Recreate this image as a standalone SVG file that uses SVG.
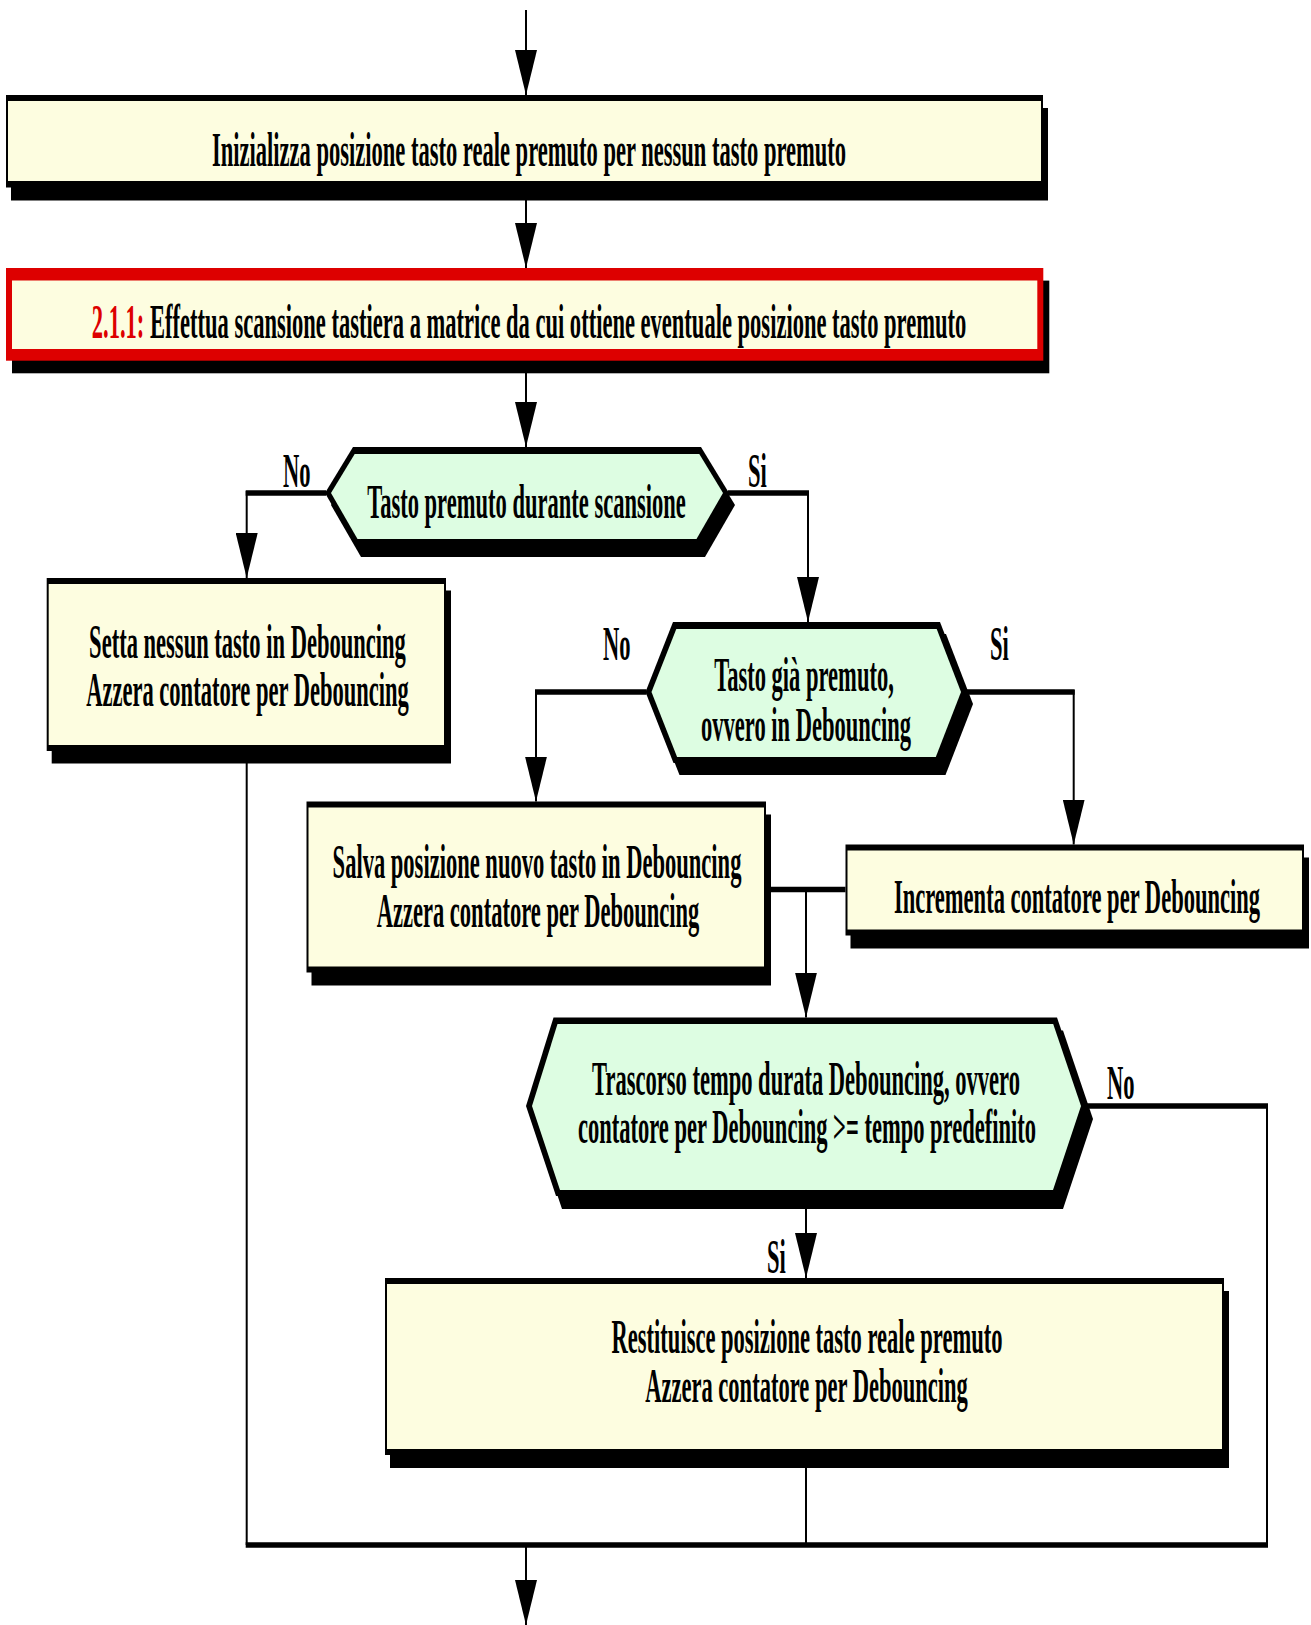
<svg xmlns="http://www.w3.org/2000/svg" width="1311" height="1625" viewBox="0 0 1311 1625">
<defs>
<style>
.t{font-family:"Liberation Serif","Times New Roman",serif;font-weight:bold;font-size:49px;fill:#000}
.m{text-anchor:middle}
.sh{fill:#000}
.bd{fill:#000}
.bx{fill:#fdfde0}
.hx{fill:#ddfde2}
.v{stroke:#000;stroke-width:2;fill:none}
.h{stroke:#000;stroke-width:5.5;fill:none}
.red{fill:#dd0000}
</style>
<marker id="ah" markerUnits="userSpaceOnUse" viewBox="0 0 45 22" markerWidth="45" markerHeight="22" refX="45" refY="11" orient="auto">
<path d="M0,0 L45,11 L0,22 z" fill="#000"/>
</marker>
</defs>
<rect width="1311" height="1625" fill="#fff"/>

<g id="connectors">
<line class="v" x1="526" y1="10" x2="526" y2="95" marker-end="url(#ah)"/>
<line class="v" x1="526" y1="200" x2="526" y2="268" marker-end="url(#ah)"/>
<line class="v" x1="526" y1="373" x2="526" y2="447" marker-end="url(#ah)"/>
<line class="h" x1="326" y1="493" x2="245.7" y2="493"/>
<line class="v" x1="246.7" y1="491" x2="246.7" y2="578" marker-end="url(#ah)"/>
<line class="h" x1="728" y1="493" x2="809" y2="493"/>
<line class="v" x1="808" y1="491" x2="808" y2="622" marker-end="url(#ah)"/>
<line class="h" x1="646.5" y1="692" x2="535" y2="692"/>
<line class="v" x1="536" y1="690" x2="536" y2="801.5" marker-end="url(#ah)"/>
<line class="h" x1="966" y1="692" x2="1074.7" y2="692"/>
<line class="v" x1="1073.7" y1="690" x2="1073.7" y2="844.5" marker-end="url(#ah)"/>
<line class="h" x1="766" y1="889.5" x2="845.5" y2="889.5"/>
<line class="v" x1="806" y1="889.5" x2="806" y2="1017.5" marker-end="url(#ah)"/>
<line class="h" x1="1086" y1="1106" x2="1268" y2="1106"/>
<line class="v" x1="1267" y1="1104" x2="1267" y2="1545"/>
<line class="v" x1="806" y1="1209" x2="806" y2="1278" marker-end="url(#ah)"/>
<line class="v" x1="246.7" y1="751" x2="246.7" y2="1545"/>
<line class="v" x1="806" y1="1455" x2="806" y2="1545"/>
<line class="h" x1="245.7" y1="1545" x2="1268" y2="1545"/>
<line class="v" x1="526" y1="1545" x2="526" y2="1625" marker-end="url(#ah)"/>
<text class="t" transform="translate(283 487) scale(0.46 1)">No</text>
<text class="t" transform="translate(748 487) scale(0.46 1)">Si</text>
<text class="t" transform="translate(603 660) scale(0.46 1)">No</text>
<text class="t" transform="translate(990 660) scale(0.46 1)">Si</text>
<text class="t" transform="translate(1107 1099) scale(0.46 1)">No</text>
<text class="t" transform="translate(767 1273) scale(0.46 1)">Si</text>
</g>

<g id="n1">
<rect class="sh" x="11" y="108" width="1037" height="92.5"/>
<rect class="bd" x="6" y="95" width="1037" height="92.5"/>
<rect class="bx" x="8" y="101" width="1033" height="80"/>
<text class="t m" transform="translate(529 166) scale(0.46 1)">Inizializza posizione tasto reale premuto per nessun tasto premuto</text>
</g>

<g id="n2">
<rect class="sh" x="12" y="280.6" width="1037.3" height="92.7"/>
<rect class="red" x="6" y="268" width="1037.3" height="92.7"/>
<rect class="bx" x="12" y="280.5" width="1025.3" height="68.5"/>
<text class="t m" transform="translate(529 338) scale(0.46 1)"><tspan fill="#dd0000">2.1.1:</tspan> Effettua scansione tastiera a matrice da cui ottiene eventuale posizione tasto premuto</text>
</g>

<g id="d1">
<polygon class="sh" points="359,459 707,459 735,505 705,557 361,557 331,505"/>
<polygon class="bd" points="353,447 701,447 729,493 699,545 355,545 325,493"/>
<polygon class="hx" points="354.7,454 699.3,454 723,493 696.5,539 357.5,539 331,493"/>
<text class="t m" transform="translate(526.5 518) scale(0.46 1)">Tasto premuto durante scansione</text>
</g>

<g id="n3">
<rect class="sh" x="51.7" y="590.5" width="399.3" height="173"/>
<rect class="bd" x="46.7" y="578" width="399.3" height="173"/>
<rect class="bx" x="48.7" y="584" width="395.3" height="161"/>
<text class="t m" transform="translate(247.5 658) scale(0.46 1)"><tspan x="0" y="0">Setta nessun tasto in Debouncing</tspan><tspan x="0" y="48">Azzera contatore per Debouncing</tspan></text>
</g>

<g id="d2">
<polygon class="sh" points="679,634 946,634 973,704 945.5,775 679.5,775 651.5,704"/>
<polygon class="bd" points="673,622 940,622 967,692 939.5,763 673.5,763 645.5,692"/>
<polygon class="hx" points="676.3,629 936.7,629 961,692 935.8,757 677.1,757 651.5,692"/>
<text class="t m" transform="translate(804 691) scale(0.46 1)"><tspan x="0" y="0">Tasto già premuto,</tspan><tspan x="4.35" y="50">ovvero in Debouncing</tspan></text>
</g>

<g id="n4">
<rect class="sh" x="311.5" y="814.5" width="459.5" height="171"/>
<rect class="bd" x="306.5" y="801.5" width="459.5" height="171"/>
<rect class="bx" x="308.5" y="807.5" width="455.5" height="159"/>
<text class="t m" transform="translate(537 878) scale(0.46 1)"><tspan x="0" y="0">Salva posizione nuovo tasto in Debouncing</tspan><tspan x="2.17" y="49">Azzera contatore per Debouncing</tspan></text>
</g>

<g id="n5">
<rect class="sh" x="850.5" y="857.5" width="458.5" height="91"/>
<rect class="bd" x="845.5" y="844.5" width="458.5" height="91"/>
<rect class="bx" x="847.5" y="850.5" width="454.5" height="79"/>
<text class="t m" transform="translate(1077 913) scale(0.46 1)">Incrementa contatore per Debouncing</text>
</g>

<g id="d3">
<polygon class="sh" points="559.5,1030.5 1063,1030.5 1093,1119 1063,1209 562,1209 532,1119"/>
<polygon class="bd" points="553.5,1017.5 1057,1017.5 1087,1106 1057,1196 556,1196 526,1106"/>
<polygon class="hx" points="557.5,1024 1053.2,1024 1081,1106 1053,1190 560,1190 532,1106"/>
<text class="t m" transform="translate(806 1095) scale(0.46 1)"><tspan x="0" y="0">Trascorso tempo durata Debouncing, ovvero</tspan><tspan x="2.17" y="48">contatore per Debouncing &gt;= tempo predefinito</tspan></text>
</g>

<g id="n6">
<rect class="sh" x="390" y="1291" width="839" height="177"/>
<rect class="bd" x="385" y="1278" width="839" height="177"/>
<rect class="bx" x="387" y="1284" width="835" height="165"/>
<text class="t m" transform="translate(807 1353) scale(0.46 1)"><tspan x="0" y="0">Restituisce posizione tasto reale premuto</tspan><tspan x="-1.09" y="49">Azzera contatore per Debouncing</tspan></text>
</g>
</svg>
